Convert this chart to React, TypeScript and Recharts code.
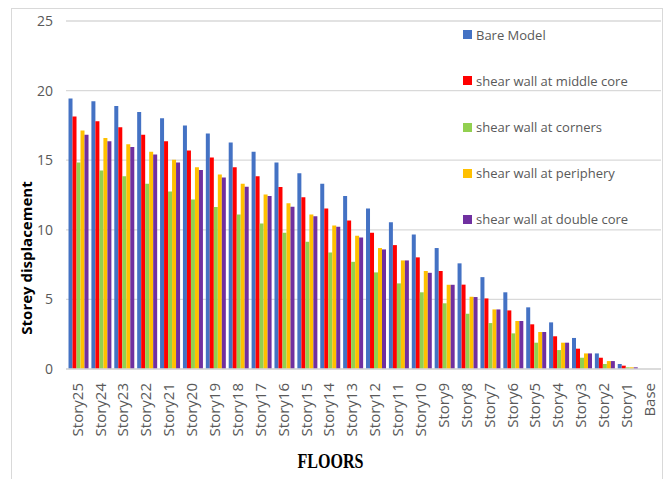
import React from 'react';
import { BarChart, Bar, XAxis, YAxis, CartesianGrid } from 'recharts';

const categories = ['Story25', 'Story24', 'Story23', 'Story22', 'Story21', 'Story20', 'Story19', 'Story18', 'Story17', 'Story16', 'Story15', 'Story14', 'Story13', 'Story12', 'Story11', 'Story10', 'Story9', 'Story8', 'Story7', 'Story6', 'Story5', 'Story4', 'Story3', 'Story2', 'Story1', 'Base'];
const bareModel = [19.43, 19.24, 18.9, 18.47, 18.02, 17.49, 16.92, 16.27, 15.6, 14.84, 14.07, 13.3, 12.42, 11.53, 10.55, 9.67, 8.69, 7.59, 6.6, 5.51, 4.43, 3.35, 2.23, 1.12, 0.36, 0];
const middleCore = [18.14, 17.8, 17.37, 16.82, 16.37, 15.7, 15.2, 14.5, 13.85, 13.07, 12.33, 11.53, 10.67, 9.78, 8.9, 8.02, 7.04, 6.06, 5.07, 4.21, 3.21, 2.35, 1.46, 0.81, 0.24, 0];
const corners = [14.84, 14.26, 13.85, 13.3, 12.75, 12.18, 11.63, 11.1, 10.46, 9.78, 9.14, 8.37, 7.7, 6.94, 6.15, 5.51, 4.72, 3.97, 3.3, 2.56, 1.89, 1.36, 0.81, 0.36, 0.12, 0];
const periphery = [17.13, 16.6, 16.15, 15.6, 15.03, 14.5, 13.98, 13.3, 12.54, 11.9, 11.1, 10.31, 9.57, 8.69, 7.8, 7.04, 6.05, 5.19, 4.28, 3.45, 2.66, 1.89, 1.12, 0.57, 0.12, 0];
const doubleCore = [16.82, 16.37, 15.94, 15.41, 14.84, 14.29, 13.76, 13.09, 12.42, 11.65, 10.98, 10.22, 9.45, 8.59, 7.8, 6.91, 6.05, 5.17, 4.28, 3.45, 2.66, 1.89, 1.12, 0.57, 0.12, 0];
const yTicks = [0, 5, 10, 15, 20, 25];

const seriesNames = ['Bare Model', 'shear wall at middle core', 'shear wall at corners', 'shear wall at periphery', 'shear wall at double core'];
const seriesColors = ['#4472C4', '#FF0000', '#92D050', '#FFC000', '#7030A0'];
const seriesKeys = ['bare', 'middle', 'corners', 'periphery', 'double'];

const data = categories.map((c, i) => ({
  name: c,
  bare: bareModel[i],
  middle: middleCore[i],
  corners: corners[i],
  periphery: periphery[i],
  double: doubleCore[i],
}));

const XTick = (props: any) => {
  const { x, y, payload } = props;
  return (
    <g transform={`translate(${x},${y})`}>
      <text transform="rotate(-90)" x={0} y={0} dy="0.35em" textAnchor="end" fill="#595959" fontSize={15} fontFamily="'Open Sans', sans-serif">
        {payload.value}
      </text>
    </g>
  );
};

const YTick = (props: any) => {
  const { x, y, payload } = props;
  return (
    <text x={x} y={y} dy="0.35em" textAnchor="end" fill="#595959" fontSize={14} fontFamily="'Open Sans', sans-serif">
      {payload.value}
    </text>
  );
};

const LegendBox = () => (
  <div style={{ position: 'absolute', left: 463, top: 11.6, fontFamily: "'Open Sans', sans-serif", fontSize: 13, color: '#595959' }}>
    {seriesNames.map((n, i) => (
      <div key={n} style={{ height: 46.2, display: 'flex', alignItems: 'center', whiteSpace: 'nowrap' }}>
        <span style={{ display: 'inline-block', width: 9, height: 9, background: seriesColors[i], marginRight: 4 }} />
        <span>{n}</span>
      </div>
    ))}
  </div>
);

export default function App() {
  return (
    <div style={{ position: 'absolute', left: 0, top: 0, width: 668, height: 479, overflow: 'hidden', background: '#fff' }}>
      <div style={{ position: 'absolute', left: 11, top: 8, width: 650, height: 480, border: '1px solid #D9D9D9' }} />
      <div style={{ position: 'absolute', left: 0, top: 0 }}>
        <BarChart width={668} height={479} data={data} margin={{ top: 21, right: 7, left: 0, bottom: 0 }} barCategoryGap="11%" barGap={0}>
          <CartesianGrid vertical={false} stroke="#D9D9D9" strokeWidth={1.3} />
          <XAxis
            dataKey="name"
            interval={0}
            height={110}
            tickLine={false}
            tickSize={0}
            tickMargin={14}
            axisLine={{ stroke: '#D9D9D9', strokeWidth: 1.3 }}
            tick={<XTick />}
            label={{
              content: (p: any) => {
                const vb = p.viewBox || { x: 66, y: 369, width: 595, height: 110 };
                return (
                  <text x={vb.x + vb.width / 2 - 33} y={vb.y + 99} textAnchor="middle" fontFamily="'Liberation Serif', serif" fontWeight="bold" fontSize={20} textLength={66} lengthAdjust="spacingAndGlyphs" fill="#000">
                    FLOORS
                  </text>
                );
              },
            }}
          />
          <YAxis
            domain={[0, 25]}
            ticks={yTicks}
            width={66}
            tickLine={false}
            axisLine={false}
            tickSize={0}
            tickMargin={13}
            tick={<YTick />}
            label={{
              content: (p: any) => {
                const vb = p.viewBox || { x: 0, y: 21, width: 66, height: 348 };
                const cx = vb.x + 27;
                const cy = vb.y + 237;
                return (
                  <text x={cx} y={cy} transform={`rotate(-90, ${cx}, ${cy})`} textAnchor="middle" dy="0.35em" fontFamily="'Open Sans', sans-serif" fontWeight="bold" fontSize={15} fill="#000">
                    Storey displacement
                  </text>
                );
              },
            }}
          />
          {seriesKeys.map((k, i) => (
            <Bar key={k} dataKey={k} name={seriesNames[i]} fill={seriesColors[i]} isAnimationActive={false} />
          ))}
        </BarChart>
      </div>
      <LegendBox />
    </div>
  );
}
